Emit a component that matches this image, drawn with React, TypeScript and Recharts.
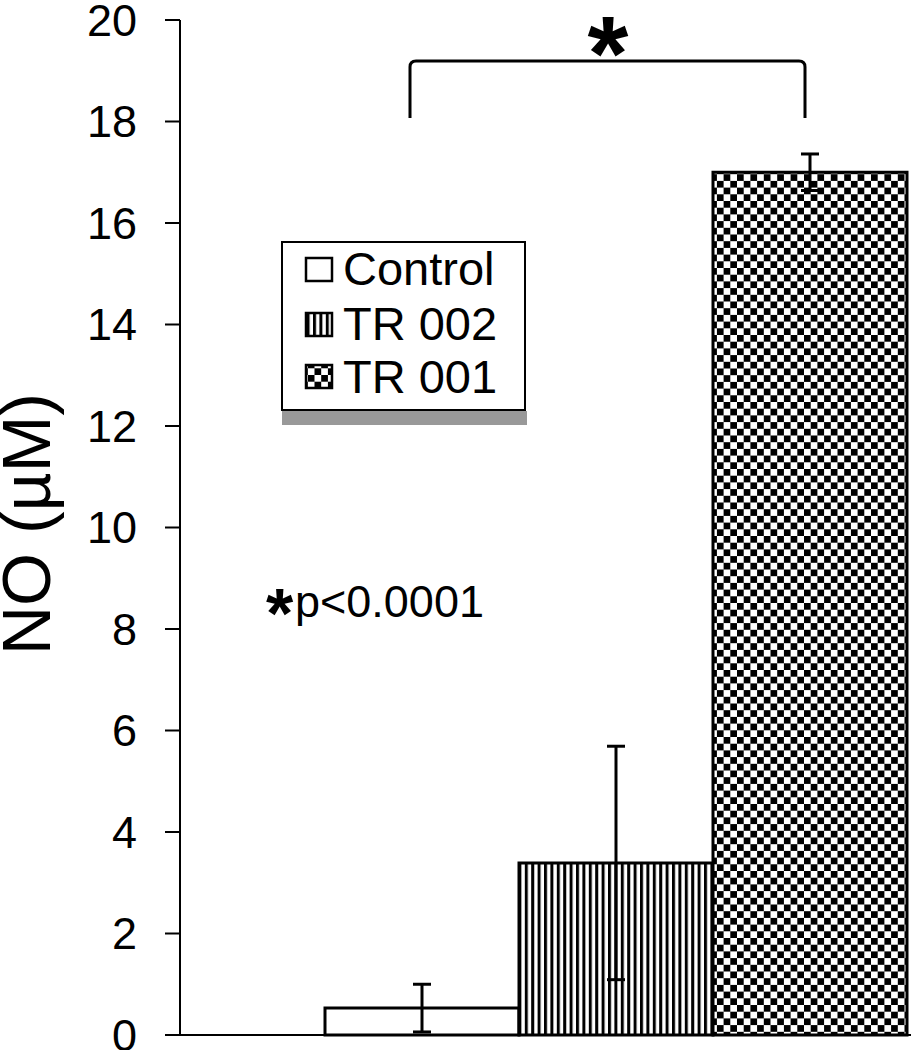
import { Bar, BarChart, ErrorBar, Legend, XAxis, YAxis } from 'recharts'

const categories = ['NO']
const seriesNames = ['Control', 'TR 002', 'TR 001']
const seriesKeys = ['control', 'tr002', 'tr001']
const means = [0.53, 3.39, 17.0]
const errors = [0.47, 2.3, 0.36]
const yTicks = [0, 2, 4, 6, 8, 10, 12, 14, 16, 18, 20]
const fills = ['#ffffff', 'url(#stripes)', 'url(#checker)']

const data = categories.map((name) => {
  const row: Record<string, string | number> = { name }
  seriesKeys.forEach((key, i) => {
    row[key] = means[i]
    row[`${key}Err`] = errors[i]
  })
  return row
})

const font = '"Liberation Sans", Arial, sans-serif'

const LegendBox = () => (
  <svg width={247} height={185} style={{ display: 'block' }}>
    <rect x={1} y={170} width={245} height={14} fill="#999" />
    <rect x={1} y={1} width={243} height={168} fill="#fff" stroke="#000" strokeWidth={2} />
    {seriesNames.map((name, i) => (
      <g key={name}>
        <rect x={25} y={[17, 72, 124][i]} width={26} height={23} fill={fills[i]} stroke="#000" strokeWidth={2.5} />
        <text x={62} y={[44, 99, 152][i]} fontSize={47} fontFamily={font} fill="#000">
          {name}
        </text>
      </g>
    ))}
  </svg>
)

export default function App() {
  return (
    <div style={{ position: 'absolute', left: 0, top: 0, width: 913, height: 1050, overflow: 'hidden', background: '#fff' }}>
      <BarChart
        width={913}
        height={1050}
        data={data}
        margin={{ top: 20, right: 2, bottom: 14, left: 0 }}
        barCategoryGap={0}
        barGap={0}
      >
        <defs>
          <pattern id="stripes" patternUnits="userSpaceOnUse" width={6.4} height={10}>
            <rect width={6.4} height={10} fill="#fff" />
            <rect width={3} height={10} fill="#000" />
          </pattern>
          <pattern id="checker" patternUnits="userSpaceOnUse" width={13.4} height={13.4}>
            <rect width={13.4} height={13.4} fill="#fff" />
            <rect width={6.7} height={6.7} fill="#000" />
            <rect x={6.7} y={6.7} width={6.7} height={6.7} fill="#000" />
          </pattern>
        </defs>
        <XAxis
          dataKey="name"
          height={1}
          tick={false}
          tickLine={false}
          axisLine={{ stroke: '#000', strokeWidth: 2 }}
          padding={{ left: 145, right: 4 }}
        />
        <YAxis
          width={180}
          domain={[0, 20]}
          ticks={yTicks}
          interval={0}
          tickSize={15}
          tickMargin={28}
          axisLine={{ stroke: '#000', strokeWidth: 2 }}
          tickLine={{ stroke: '#000', strokeWidth: 2 }}
          tick={{ fontSize: 45, fill: '#000', fontFamily: font }}
        />
        <Legend
          layout="vertical"
          align="center"
          verticalAlign="middle"
          content={() => <LegendBox />}
          wrapperStyle={{ left: 281, top: 241, width: 247, height: 185 }}
        />
        {seriesKeys.map((key, i) => (
          <Bar
            key={key}
            dataKey={key}
            name={seriesNames[i]}
            fill={fills[i]}
            stroke="#000"
            strokeWidth={3}
            isAnimationActive={false}
          >
            <ErrorBar dataKey={`${key}Err`} width={9} stroke="#000" strokeWidth={3} />
          </Bar>
        ))}
      </BarChart>
      <svg
        width={913}
        height={1050}
        style={{ position: 'absolute', left: 0, top: 0, pointerEvents: 'none' }}
        fontFamily={font}
      >
        <text transform="translate(50,524) rotate(-90)" textAnchor="middle" fontSize={68} fill="#000">
          NO (µM)
        </text>
        <path
          d="M410,118 L410,67 Q410,61 416,61 L799,61 Q805,61 805,67 L805,118"
          stroke="#000"
          strokeWidth={3}
          fill="none"
        />
        <text x={608} y={90} textAnchor="middle" fontSize={105} fontWeight="bold" fill="#000">
          *
        </text>
        <text x={266} y={638} fontSize={70} fontWeight="bold" fill="#000">
          *
        </text>
        <text x={295} y={617} fontSize={45} fill="#000">
          p&lt;0.0001
        </text>
      </svg>
    </div>
  )
}
